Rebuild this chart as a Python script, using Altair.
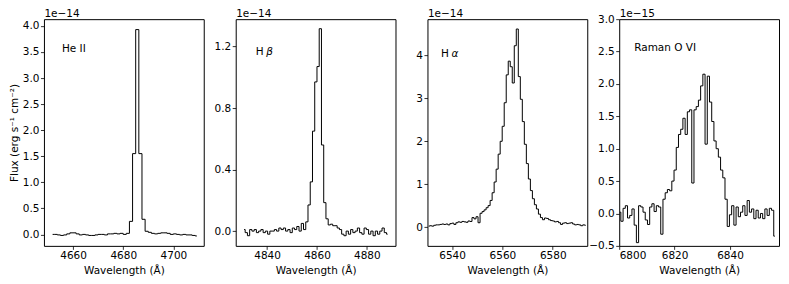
import altair as alt
import pandas as pd

FONT = "DejaVu Sans"

# ---------------- data (flux in units of the panel's offset) ----------------
# He II 4686 (x 1e-14)
HE2_START, HE2_STEP = 4651.85, 1.25
HE2_FLUX = [0.00, 0.00, -0.01, -0.02, -0.01, 0.01, 0.03, 0.03, 0.01, -0.01,
            0.00, -0.01, -0.02, -0.02, -0.01, 0.00, 0.00, -0.01, 0.01, 0.01,
            0.02, 0.01, 0.02, 0.00, 0.02, 0.25, 1.55, 3.93, 1.55, 0.29,
            0.06, 0.04, 0.02, 0.01, 0.02, 0.03, 0.03, 0.02, 0.00, 0.01,
            0.00, -0.01, 0.00, -0.01, -0.01, -0.02, -0.03]

# H beta (x 1e-14)
HB_START, HB_STEP = 4830.75, 0.9
HB_FLUX = [0.01, -0.01, -0.03, 0.01, 0.00, 0.01, -0.01, 0.00, 0.01, -0.01,
           0.00, -0.02, 0.00, 0.00, 0.01, 0.00, 0.02, 0.01, 0.02, 0.00,
           0.01, -0.01, 0.02, 0.01, 0.03, 0.00, 0.05, 0.01, 0.06, 0.17,
           0.32, 0.65, 0.97, 1.07, 1.316, 0.56, 0.185, 0.08, 0.04, 0.045,
           0.035, 0.035, 0.02, 0.01, -0.02, -0.03, 0.00, -0.02, 0.01, -0.01,
           0.00, 0.02, -0.01, -0.02, 0.02, 0.01, -0.02, 0.00, -0.03, 0.00,
           -0.02, 0.00, 0.02, -0.01, -0.02]

# H alpha (x 1e-14)
HA_START, HA_STEP = 6530.7, 0.8
HA_FLUX = [0.02, 0.03, 0.02, 0.04, 0.05, 0.05, 0.06, 0.07, 0.06, 0.07,
           0.05, 0.08, 0.09, 0.06, 0.10, 0.12, 0.11, 0.13, 0.12, 0.11,
           0.14, 0.13, 0.22, 0.19, 0.24, 0.10, 0.32, 0.36, 0.40, 0.45,
           0.50, 0.62, 0.80, 1.05, 1.35, 1.70, 2.00, 2.35, 2.90, 3.55,
           3.87, 3.74, 3.36, 4.23, 4.62, 3.51, 2.98, 2.46, 1.93, 1.48,
           1.12, 0.85, 0.66, 0.52, 0.42, 0.30, 0.22, 0.17, 0.21, 0.20,
           0.17, 0.15, 0.14, 0.12, 0.13, 0.10, 0.06, 0.09, 0.10, 0.08,
           0.09, 0.10, 0.07, 0.05, 0.06, 0.05, 0.03, 0.05, 0.04]

# Raman O VI 6825 (x 1e-15)
RO_START, RO_STEP = 6800.2, 0.8
RO_FLUX = [0.02, -0.12, 0.08, 0.12, -0.07, -0.03, 0.07, -0.18, -0.45, 0.12,
           0.10, 0.02, -0.10, -0.17, 0.10, 0.15, 0.03, 0.12, 0.10, -0.32,
           0.22, 0.32, 0.37, 0.35, 0.50, 0.67, 1.02, 1.22, 1.30, 1.47,
           1.22, 1.57, 1.60, 0.47, 1.60, 1.65, 1.75, 1.97, 2.15, 1.07,
           2.12, 1.72, 1.42, 1.12, 1.00, 0.87, 0.67, 0.55, 0.22, -0.20,
           -0.02, 0.12, -0.18, 0.10, -0.05, 0.02, 0.12, -0.03, 0.20, 0.02,
           0.07, -0.08, 0.05, -0.07, 0.00, -0.08, 0.07, -0.03, 0.08, 0.05,
           -0.35]

PANELS = [
    dict(start=HE2_START, step=HE2_STEP, flux=HE2_FLUX,
         xdom=[4648.4, 4712.1], xticks=[4660, 4680, 4700],
         ydom=[-0.22, 4.13], yticks=[0, 0.5, 1, 1.5, 2, 2.5, 3, 3.5, 4], yfmt=".1f",
         offset="1e\u221214", label=[("He II", 18, 30, "normal")],
         ytitle="Flux (erg s\u207b\u00b9 cm\u207b\u00b2)"),
    dict(start=HB_START, step=HB_STEP, flux=HB_FLUX,
         xdom=[4827.4, 4891.5], xticks=[4840, 4860, 4880],
         ydom=[-0.096, 1.378], yticks=[0, 0.4, 0.8, 1.2], yfmt=".1f",
         offset="1e\u221214", label=[("H", 20, 33, "normal"), ("\u03b2", 30.5, 33, "italic")]),
    dict(start=HA_START, step=HA_STEP, flux=HA_FLUX,
         xdom=[6530.2, 6593.7], xticks=[6540, 6560, 6580],
         ydom=[-0.44, 4.85], yticks=[0, 1, 2, 3, 4], yfmt="d",
         offset="1e\u221214", label=[("H", 13.5, 34.5, "normal"), ("\u03b1", 24, 34.5, "italic")]),
    dict(start=RO_START, step=RO_STEP, flux=RO_FLUX,
         xdom=[6800, 6857.7], xticks=[6800, 6820, 6840],
         ydom=[-0.5, 3.0], yticks=[-0.5, 0, 0.5, 1, 1.5, 2, 2.5, 3], yfmt=".1f",
         offset="1e\u221215", label=[("Raman O VI", 15, 29, "normal")]),
]

W, H = 160, 227


def make_panel(p):
    waves = [round(p["start"] + p["step"] * i, 3) for i in range(len(p["flux"]))]
    df = pd.DataFrame({"wave": waves, "flux": p["flux"]})
    yaxis_kw = dict(values=p["yticks"], format=p["yfmt"])
    if "ytitle" in p:
        yaxis_kw["title"] = p["ytitle"]
    else:
        yaxis_kw["title"] = ""
    line = alt.Chart(df).mark_line(
        interpolate="step", color="black", strokeWidth=1, clip=True
    ).encode(
        x=alt.X("wave:Q",
                scale=alt.Scale(domain=p["xdom"], nice=False, zero=False),
                axis=alt.Axis(values=p["xticks"], format="d", title="Wavelength (\u00c5)")),
        y=alt.Y("flux:Q",
                scale=alt.Scale(domain=p["ydom"], nice=False, zero=False),
                axis=alt.Axis(**yaxis_kw)),
    )
    layers = [line]
    for txt, px, py, style in p["label"]:
        layers.append(
            alt.Chart(pd.DataFrame({"t": [txt]})).mark_text(
                align="left", baseline="middle", font=FONT, fontSize=10.5,
                fontStyle=style, color="black"
            ).encode(x=alt.value(px), y=alt.value(py), text="t:N")
        )
    layers.append(
        alt.Chart(pd.DataFrame({"t": [p["offset"]]})).mark_text(
            align="left", baseline="alphabetic", font=FONT, fontSize=10.5, color="black"
        ).encode(x=alt.value(0.5), y=alt.value(-2), text="t:N")
    )
    return alt.layer(*layers).properties(width=W, height=H)


chart = alt.hconcat(
    *[make_panel(p) for p in PANELS], spacing=32, bounds="flush"
).properties(
    padding={"left": 0, "top": 0, "right": 1, "bottom": 0}
).configure_view(
    stroke="black", strokeWidth=1
).configure_axis(
    labelFont=FONT, titleFont=FONT, labelFontSize=10.5, titleFontSize=10.5,
    labelColor="black", titleColor="black", titleFontWeight="normal",
    tickColor="black", tickSize=3.5, tickWidth=0.8, domain=False, grid=False,
    labelPadding=1.5, titlePadding=3
).configure_axisX(
    titlePadding=4
)

chart.save("out.html", embed_options={"renderer": "svg", "actions": False})
